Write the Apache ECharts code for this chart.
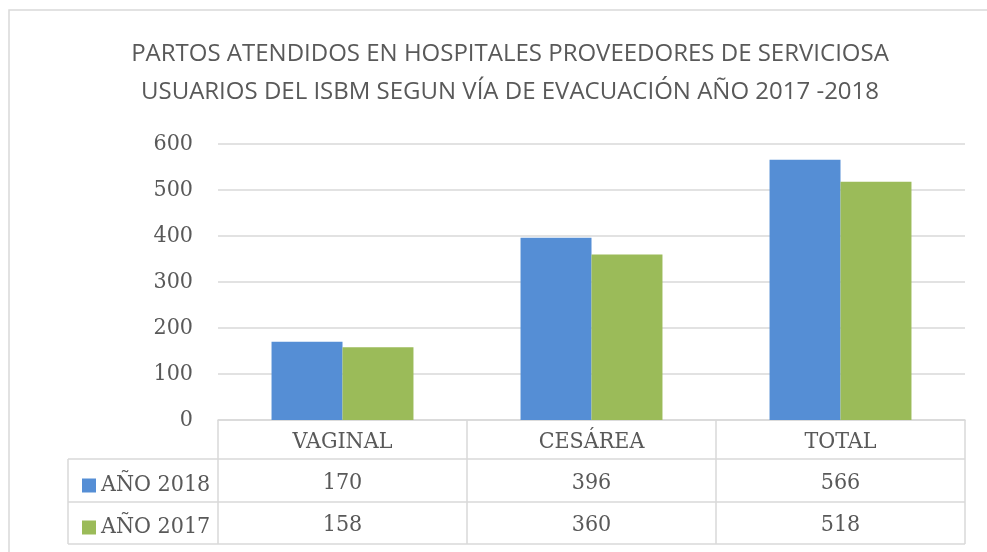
<!DOCTYPE html>
<html>
<head>
<meta charset="utf-8">
<script src="https://cdn.jsdelivr.net/npm/echarts@6/dist/echarts.min.js"></script>
<style>html,body{margin:0;padding:0;background:#fff}#c{width:987px;height:552px}</style>
</head>
<body>
<div id="c"></div>
<script>
var titleText = 'PARTOS ATENDIDOS EN HOSPITALES PROVEEDORES DE SERVICIOSA\nUSUARIOS DEL ISBM SEGUN VÍA DE EVACUACIÓN AÑO 2017 -2018';
var categories = ['VAGINAL', 'CESÁREA', 'TOTAL'];
var seriesNames = ['AÑO 2018', 'AÑO 2017'];
var values2018 = [170, 396, 566];
var values2017 = [158, 360, 518];
var yTicks = [0, 100, 200, 300, 400, 500, 600];

var serif = "'DejaVu Serif Condensed', 'Liberation Serif', serif";
var sans = "'Liberation Sans Narrow', 'Open Sans', sans-serif";
var textColor = '#595959';
var lineColor = '#D9D9D9';

var chart = echarts.init(document.getElementById('c'));
var L = 68, R = 965, yHead = 420, yR1 = 459, yR2 = 502, yBot = 544;
chart.setOption({
  animation: false,
  title: {
    text: titleText,
    left: 505, top: 30, textAlign: 'center',
    textStyle: { fontFamily: sans, fontSize: 24, fontWeight: 'normal', color: textColor, lineHeight: 38 }
  },
  legend: {
    orient: 'vertical', left: 77, top: 466.5,
    itemWidth: 14, itemHeight: 14, itemGap: 14, icon: 'rect',
    data: seriesNames,
    textStyle: { fontFamily: serif, fontSize: 23, color: textColor, lineHeight: 28 }
  },
  grid: { left: 218, right: 987 - R, top: 144, bottom: 552 - yHead },
  xAxis: {
    type: 'category', data: categories,
    axisLine: { lineStyle: { color: lineColor, width: 1.5 } },
    axisTick: { show: true, length: yBot - yHead, lineStyle: { color: lineColor, width: 1.5 } },
    axisLabel: {
      margin: 1, lineHeight: 41.5, fontFamily: serif, fontSize: 23, color: textColor,
      formatter: function (v, i) { return v + '\n' + values2018[i] + '\n' + values2017[i]; }
    }
  },
  yAxis: {
    type: 'value', min: yTicks[0], max: yTicks[yTicks.length - 1], interval: 100,
    axisLine: { show: false }, axisTick: { show: false },
    axisLabel: { margin: 25, fontFamily: serif, fontSize: 23, color: textColor },
    splitLine: { lineStyle: { color: lineColor, width: 1.5 } }
  },
  series: [
    { name: seriesNames[0], type: 'bar', data: values2018, barGap: 0, barCategoryGap: '43%',
      itemStyle: { color: '#558ED5' } },
    { name: seriesNames[1], type: 'bar', data: values2017, barGap: 0, barCategoryGap: '43%',
      itemStyle: { color: '#9BBB59' } }
  ],
  graphic: [
    { type: 'rect', shape: { x: 9, y: 10, width: 1100, height: 700 }, style: { fill: 'none', stroke: lineColor, lineWidth: 1.5 }, silent: true },
    { type: 'line', shape: { x1: L, y1: yR1, x2: R, y2: yR1 }, style: { stroke: lineColor, lineWidth: 1.5 } },
    { type: 'line', shape: { x1: L, y1: yR2, x2: R, y2: yR2 }, style: { stroke: lineColor, lineWidth: 1.5 } },
    { type: 'line', shape: { x1: L, y1: yBot, x2: R, y2: yBot }, style: { stroke: lineColor, lineWidth: 1.5 } },
    { type: 'line', shape: { x1: L, y1: yR1, x2: L, y2: yBot }, style: { stroke: lineColor, lineWidth: 1.5 } }
  ]
});
</script>
</body>
</html>
